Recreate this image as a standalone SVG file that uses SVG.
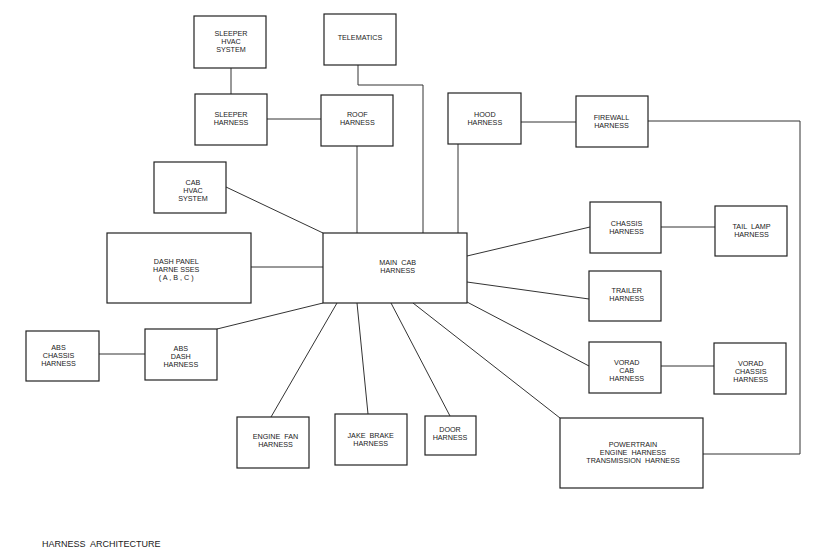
<svg xmlns="http://www.w3.org/2000/svg" width="826" height="551" viewBox="0 0 826 551" xml:space="preserve">
<style>
.box{fill:#fff;stroke:#222;stroke-width:1.2}
.lbl{font-family:"Liberation Sans",Arial,sans-serif;font-size:7.2px;fill:#1a1a1a;text-anchor:middle;white-space:pre}
.con{fill:none;stroke:#333;stroke-width:1}
.title{font-family:"Liberation Sans",Arial,sans-serif;font-size:9px;fill:#1a1a1a;white-space:pre}
</style>
<rect width="826" height="551" fill="#fff"/>
<g id="connectors">
<line class="con" x1="231" y1="68" x2="231" y2="94"/>
<line class="con" x1="267" y1="119" x2="321" y2="119"/>
<polyline class="con" points="358,65 358,85 423,85 423,233"/>
<line class="con" x1="357" y1="146" x2="357" y2="233"/>
<line class="con" x1="458" y1="144" x2="458" y2="233"/>
<line class="con" x1="521" y1="122" x2="576" y2="122"/>
<polyline class="con" points="648,121 800,121 800,454 703,454"/>
<line class="con" x1="226" y1="187" x2="323" y2="233"/>
<line class="con" x1="251" y1="267" x2="323" y2="267"/>
<line class="con" x1="467" y1="256" x2="590" y2="227"/>
<line class="con" x1="661" y1="227" x2="715" y2="227"/>
<line class="con" x1="467" y1="282" x2="589" y2="299"/>
<line class="con" x1="467" y1="302" x2="589" y2="366"/>
<line class="con" x1="661" y1="366" x2="714" y2="366"/>
<line class="con" x1="413" y1="303" x2="560" y2="418"/>
<line class="con" x1="391" y1="303" x2="450" y2="416"/>
<line class="con" x1="357" y1="303" x2="368" y2="414"/>
<line class="con" x1="337" y1="303" x2="271" y2="417"/>
<line class="con" x1="323" y1="303" x2="217" y2="329"/>
<line class="con" x1="99" y1="354" x2="145" y2="354"/>
</g>
<g id="sleeper-hvac"><rect class="box" x="194" y="16" width="72" height="52"/>
<text class="lbl" x="231" y="36">SLEEPER</text><text class="lbl" x="231" y="44.2">HVAC</text><text class="lbl" x="231" y="52.2">SYSTEM</text></g>
<g id="telematics"><rect class="box" x="324" y="14" width="72" height="51"/>
<text class="lbl" x="360" y="40">TELEMATICS</text></g>
<g id="sleeper-harness"><rect class="box" x="195" y="94" width="72" height="51"/>
<text class="lbl" x="231" y="117">SLEEPER</text><text class="lbl" x="231" y="125">HARNESS</text></g>
<g id="roof-harness"><rect class="box" x="321" y="95" width="72" height="51"/>
<text class="lbl" x="357.3" y="117">ROOF</text><text class="lbl" x="357.3" y="125">HARNESS</text></g>
<g id="hood-harness"><rect class="box" x="448" y="93" width="73" height="51"/>
<text class="lbl" x="484.8" y="117">HOOD</text><text class="lbl" x="484.8" y="125.3">HARNESS</text></g>
<g id="firewall-harness"><rect class="box" x="576" y="96" width="72" height="51"/>
<text class="lbl" x="611.5" y="120">FIREWALL</text><text class="lbl" x="611.5" y="128.3">HARNESS</text></g>
<g id="cab-hvac"><rect class="box" x="154" y="162" width="72" height="51"/>
<text class="lbl" x="193" y="184.6">CAB</text><text class="lbl" x="193" y="192.6">HVAC</text><text class="lbl" x="193" y="200.6">SYSTEM</text></g>
<g id="dash-panel"><rect class="box" x="107" y="233" width="144" height="70"/>
<text class="lbl" x="176.2" y="263.5">DASH PANEL</text><text class="lbl" x="176.2" y="271.5">HARNE SSES</text><text class="lbl" x="176.2" y="279.5">( A , B , C )</text></g>
<g id="main-cab"><rect class="box" x="323" y="233" width="144" height="70"/>
<text class="lbl" x="397.7" y="265.3">MAIN  CAB</text><text class="lbl" x="397.7" y="273.3">HARNESS</text></g>
<g id="chassis-harness"><rect class="box" x="590" y="202" width="71" height="51"/>
<text class="lbl" x="626.5" y="226">CHASSIS</text><text class="lbl" x="626.5" y="234.3">HARNESS</text></g>
<g id="tail-lamp"><rect class="box" x="715" y="206" width="72" height="50"/>
<text class="lbl" x="751.5" y="229.3">TAIL  LAMP</text><text class="lbl" x="751.5" y="237.3">HARNESS</text></g>
<g id="trailer-harness"><rect class="box" x="589" y="271" width="72" height="50"/>
<text class="lbl" x="626.7" y="293">TRAILER</text><text class="lbl" x="626.7" y="301">HARNESS</text></g>
<g id="vorad-cab"><rect class="box" x="589" y="342" width="72" height="51"/>
<text class="lbl" x="626.7" y="365">VORAD</text><text class="lbl" x="626.7" y="373">CAB</text><text class="lbl" x="626.7" y="381">HARNESS</text></g>
<g id="vorad-chassis"><rect class="box" x="714" y="343" width="72" height="51"/>
<text class="lbl" x="750.7" y="366.3">VORAD</text><text class="lbl" x="750.7" y="374.3">CHASSIS</text><text class="lbl" x="750.7" y="382.3">HARNESS</text></g>
<g id="abs-chassis"><rect class="box" x="26" y="331" width="73" height="50"/>
<text class="lbl" x="58.5" y="350.3">ABS</text><text class="lbl" x="58.5" y="358">CHASSIS</text><text class="lbl" x="58.5" y="365.7">HARNESS</text></g>
<g id="abs-dash"><rect class="box" x="145" y="329" width="72" height="51"/>
<text class="lbl" x="180.8" y="351.3">ABS</text><text class="lbl" x="180.8" y="359.3">DASH</text><text class="lbl" x="180.8" y="367.3">HARNESS</text></g>
<g id="engine-fan"><rect class="box" x="237" y="417" width="72" height="51"/>
<text class="lbl" x="275.5" y="439.3">ENGINE  FAN</text><text class="lbl" x="275.5" y="447.3">HARNESS</text></g>
<g id="jake-brake"><rect class="box" x="335" y="414" width="72" height="51"/>
<text class="lbl" x="370.7" y="437.6">JAKE  BRAKE</text><text class="lbl" x="370.7" y="445.6">HARNESS</text></g>
<g id="door-harness"><rect class="box" x="425" y="416" width="51" height="39"/>
<text class="lbl" x="450" y="432">DOOR</text><text class="lbl" x="450" y="440.3">HARNESS</text></g>
<g id="powertrain"><rect class="box" x="560" y="418" width="143" height="70"/>
<text class="lbl" x="633" y="447">POWERTRAIN</text><text class="lbl" x="633" y="455">ENGINE  HARNESS</text><text class="lbl" x="633" y="463.3">TRANSMISSION  HARNESS</text></g>
<text class="title" x="42" y="547">HARNESS  ARCHITECTURE</text>
</svg>
